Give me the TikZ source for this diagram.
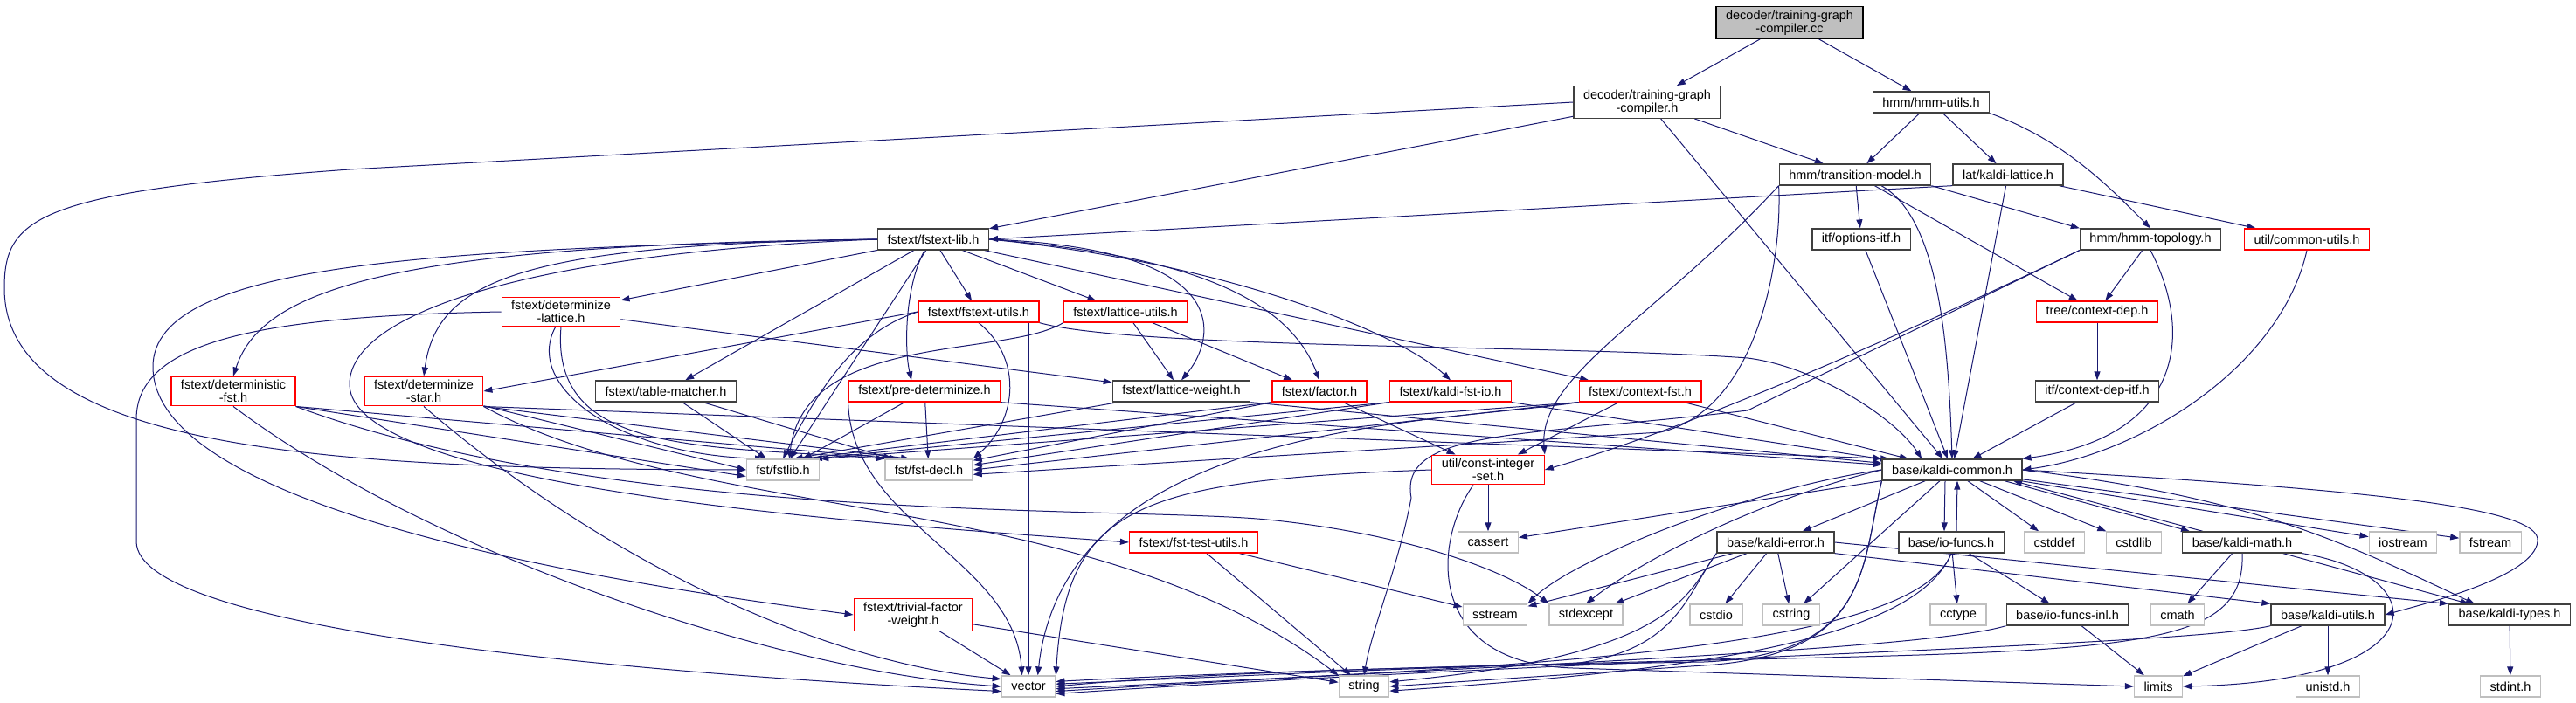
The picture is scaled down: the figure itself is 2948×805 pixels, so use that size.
\documentclass[tikz,border=0pt]{standalone}
\usepackage{fontspec}
\setmainfont{Liberation Sans}
\usepackage{xcolor}
\definecolor{dgedge}{HTML}{191970}
\definecolor{dggray}{HTML}{BFBFBF}
\definecolor{dgdark}{HTML}{404040}
\definecolor{dgred}{HTML}{FF0000}
\usepackage{tikz}
\usetikzlibrary{arrows.meta,positioning,backgrounds}

\begin{document}
\begin{tikzpicture}[x=1pt, y=-1pt,
  hdr/.style={draw=dgdark, fill=white, line width=1.3pt, minimum height=24pt,
              inner xsep=11pt, inner ysep=4pt, align=center,
              font=\fontsize{14.5}{15}\selectfont},
  trunc/.style={hdr, draw=dgred},
  sys/.style={hdr, draw=dggray},
  root/.style={hdr, draw=black, fill=dggray},
  inc/.style={draw=dgedge, line width=1pt, -{Triangle[length=10pt,width=7pt]}}
]
\useasboundingbox (0,0) rectangle (2948,805);

%% decoder, hmm, lat
\node[root] (cc) at (2048,26) {decoder/training-graph\\-compiler.cc};
\node[hdr] (tgc) at (1885,117) {decoder/training-graph\\-compiler.h};
\node[hdr] (hmmutils) at (2210,117) {hmm/hmm-utils.h};
\node[hdr] (transmodel) at (2123,200) {hmm/transition-model.h};
\node[hdr] (kaldilattice) at (2298,200) {lat/kaldi-lattice.h};
\node[hdr] (fstextlib) at (1068,274) {fstext/fstext-lib.h};
\node[hdr] (optionsitf) at (2130,274) {itf/options-itf.h};
\node[hdr] (hmmtopo) at (2461,274) {hmm/hmm-topology.h};
\node[trunc] (commonutils) at (2640,274) {util/common-utils.h};
\node[trunc] (contextdep) at (2400,357) {tree/context-dep.h};
\node[hdr] (contextdepitf) at (2400,448) {itf/context-dep-itf.h};

%% fstext
\node[trunc] (detlattice) at (642,357) {fstext/determinize\\-lattice.h};
\node[trunc] (fstextutils) at (1120,357) {fstext/fstext-utils.h};
\node[trunc] (latticeutils) at (1288,357) {fstext/lattice-utils.h};
\node[trunc] (detfst) at (267,448) {fstext/deterministic\\-fst.h};
\node[trunc] (detstar) at (485,448) {fstext/determinize\\-star.h};
\node[hdr] (tablematcher) at (762,448) {fstext/table-matcher.h};
\node[trunc] (predet) at (1058,448) {fstext/pre-determinize.h};
\node[hdr] (latticeweight) at (1352,448) {fstext/lattice-weight.h};
\node[trunc] (factor) at (1510,448) {fstext/factor.h};
\node[trunc] (kaldifstio) at (1660,448) {fstext/kaldi-fst-io.h};
\node[trunc] (contextfst) at (1877,448) {fstext/context-fst.h};
\node[sys] (fstlib) at (896,538) {fst/fstlib.h};
\node[sys] (fstdecl) at (1063,538) {fst/fst-decl.h};
\node[trunc] (constint) at (1703,538) {util/const-integer\\-set.h};
\node[trunc] (fsttest) at (1366,621) {fstext/fst-test-utils.h};
\node[trunc] (trivial) at (1045,704) {fstext/trivial-factor\\-weight.h};

%% base
\node[hdr] (kcommon) at (2234,538) {base/kaldi-common.h};
\node[sys] (cassert) at (1703,621) {cassert};
\node[hdr] (kerror) at (2032,621) {base/kaldi-error.h};
\node[hdr] (iofuncs) at (2233,621) {base/io-funcs.h};
\node[sys] (cstddef) at (2351,621) {cstddef};
\node[sys] (cstdlib) at (2442,621) {cstdlib};
\node[hdr] (kmath) at (2566,621) {base/kaldi-math.h};
\node[sys] (iostream) at (2750,621) {iostream};
\node[sys] (fstream) at (2850,621) {fstream};
\node[sys] (sstream) at (1711,704) {sstream};
\node[sys] (stdexcept) at (1815,704) {stdexcept};
\node[sys] (cstdio) at (1964,704) {cstdio};
\node[sys] (cstring) at (2050,704) {cstring};
\node[sys] (cctype) at (2241,704) {cctype};
\node[hdr] (iofuncsinl) at (2366,704) {base/io-funcs-inl.h};
\node[sys] (cmath) at (2492,704) {cmath};
\node[hdr] (kutils) at (2664,704) {base/kaldi-utils.h};
\node[hdr] (ktypes) at (2872,704) {base/kaldi-types.h};
\node[sys] (vector) at (1177,786) {vector};
\node[sys] (string) at (1561,786) {string};
\node[sys] (limits) at (2470,786) {limits};
\node[sys] (unistd) at (2664,786) {unistd.h};
\node[sys] (stdint) at (2873,786) {stdint.h};

\begin{scope}[on background layer]
%% top of the graph
\foreach \n in {tgc,hmmutils} \draw[inc] (cc) -- (\n);
\foreach \n in {fstextlib,transmodel,kcommon} \draw[inc] (tgc) -- (\n);
\draw[inc] (tgc.west) -- (400,194) .. controls (40,220) and (5,250) .. (5,330)
  .. controls (5,520) and (400,537) .. (fstlib.west);
\foreach \n in {transmodel,kaldilattice} \draw[inc] (hmmutils) -- (\n);
\draw[inc] (hmmutils.south east) .. controls (2360,160) and (2410,210) .. (hmmtopo.north);
\foreach \n in {optionsitf,contextdep} \draw[inc] (transmodel) -- (\n);
\draw[inc] (transmodel.south east) -- (hmmtopo.north west);
\draw[inc] ([xshift=30pt]transmodel.south) .. controls (2220,250) and (2230,400) .. (kcommon.north);
\draw[inc] (transmodel.south west) .. controls (1900,360) and (1760,430) .. (constint.north east);
\draw[inc] (transmodel.south west) .. controls (2040,300) and (2010,470) .. (1900,495) -- (fstdecl.-6);
\draw[inc] (kaldilattice.south west) -- (fstextlib.east);
\foreach \n in {kcommon,commonutils} \draw[inc] (kaldilattice) -- (\n);
\draw[inc] (hmmtopo) -- (contextdep);
\draw[inc] (hmmtopo.south) .. controls (2510,380) and (2500,500) .. (kcommon.north east);
\draw[inc] (hmmtopo.south west) .. controls (2100,420) and (1900,500) .. (constint.east);
\draw[inc] (hmmtopo.south west) -- (2000,470) .. controls (1750,500) and (1600,490) .. (1615,570)
  .. controls (1600,650) and (1570,720) .. (string.north);
\draw[inc] (commonutils.south) .. controls (2610,420) and (2450,520) .. (kcommon.east);
\foreach \n in {optionsitf,contextdepitf} \draw[inc] (\n) -- (kcommon);
\draw[inc] (contextdep) -- (contextdepitf);

%% fstext-lib
\foreach \n in {detlattice,tablematcher,fstextutils,latticeutils,contextfst,fstlib}
  \draw[inc] (fstextlib) -- (\n);
\draw[inc] (fstextlib.west) .. controls (450,280) and (300,330) .. (detfst.north);
\draw[inc] (fstextlib.west) .. controls (600,280) and (500,320) .. (detstar.north);
\draw[inc] (fstextlib.west) .. controls (500,285) and (175,300) .. (175,420)
  .. controls (175,600) and (800,680) .. (trivial.west);
\draw[inc] (fstextlib.west) .. controls (600,290) and (400,360) .. (400,440)
  .. controls (400,560) and (1000,600) .. (fsttest.west);
\draw[inc] ([xshift=-10pt]fstextlib.south) .. controls (1035,330) and (1035,400) .. ([xshift=-15pt]predet.north);
\draw[inc] (fstextlib.east) .. controls (1420,285) and (1390,390) .. (latticeweight.north);
\draw[inc] (fstextlib.east) .. controls (1330,290) and (1470,330) .. (factor.north);
\draw[inc] (fstextlib.east) .. controls (1400,300) and (1600,380) .. (kaldifstio.north);

%% fstext headers
\draw[inc] (detlattice) -- (latticeweight);
\draw[inc] (detlattice.250) .. controls (600,440) and (700,520) .. (fstlib.150);
\draw[inc] (detlattice.south) .. controls (630,520) and (800,510) .. (fstdecl.north west);
\draw[inc] (detlattice.west) .. controls (300,362) and (156,390) .. (156,480) -- (156,620)
  .. controls (156,720) and (700,770) .. (vector.190);
\draw[inc] (detfst.south east) -- (fstlib.190);
\draw[inc] (detfst.south east) -- (fstdecl.160);
\draw[inc] (detfst.south) .. controls (500,640) and (900,770) .. (vector.west);
\draw[inc] (detfst.south east) .. controls (700,600) and (1300,580) .. (1450,595)
  .. controls (1600,610) and (1720,650) .. (stdexcept.north west);
\draw[inc] (detstar) -- (fstlib.west);
\draw[inc] (detstar.south east) -- (fstdecl.150);
\draw[inc] (detstar.south) .. controls (700,650) and (950,760) .. (vector.165);
\draw[inc] (detstar.south east) -- (kcommon.170);
\draw[inc] (detstar.south east) .. controls (800,600) and (1250,560) .. (string.north west);
\foreach \n in {fstlib,fstdecl} \draw[inc] (tablematcher) -- (\n);
\foreach \n in {fstlib,fstdecl} \draw[inc] (predet) -- (\n);
\draw[inc] (predet.south west) .. controls (975,600) and (1160,640) .. (vector.120);
\draw[inc] (predet.south east) -- (kcommon);
\draw[inc] (fstextutils.west) -- (detstar.east);
\draw[inc] (fstextutils.west) .. controls (980,380) and (940,440) .. (fstlib.north);
\draw[inc] (fstextutils.south) .. controls (1170,410) and (1165,480) .. (fstdecl.north east);
\draw[inc] ([xshift=57pt]fstextutils.south) -- (vector.north);
\draw[inc] (fstextutils.south east) .. controls (1300,400) and (1800,395) .. (2000,410)
  .. controls (2080,420) and (2170,480) .. (kcommon.160);
\foreach \n in {latticeweight,factor} \draw[inc] (latticeutils) -- (\n);
\draw[inc] (latticeutils.south west) .. controls (1150,410) and (920,380) .. (fstlib.60);
\draw[inc] (latticeweight) -- (fstlib.45);
\draw[inc] (latticeweight.south east) -- (kcommon);
\draw[inc] (factor) -- (constint);
\draw[inc] (factor.south west) -- (fstlib.30);
\draw[inc] (factor.south west) -- (fstdecl.12);
\draw[inc] (kaldifstio.south west) -- (fstlib.20);
\draw[inc] (kaldifstio.south west) -- (fstdecl.6);
\draw[inc] (kaldifstio.south east) -- (kcommon);
\foreach \n in {constint,kcommon} \draw[inc] (contextfst) -- (\n);
\draw[inc] (contextfst.south west) -- (fstlib.north east);
\draw[inc] (contextfst.south west) -- (fstdecl.east);
\draw[inc] (contextfst.south west) .. controls (1650,485) and (1220,480) .. (vector.50);

%% const-integer-set, test utils, trivial factor
\draw[inc] (constint) -- (cassert);
\draw[inc] (constint.west) .. controls (1300,550) and (1220,580) .. (vector.north east);
\draw[inc] ([xshift=-17pt]constint.south) .. controls (1640,620) and (1630,760) .. (1800,765) -- (limits.west);
\foreach \n in {sstream,string} \draw[inc] (fsttest) -- (\n);
\foreach \n in {vector,string} \draw[inc] (trivial) -- (\n);

%% kaldi-common and base headers
\foreach \n in {kerror,cstddef,cstdlib,iostream,fstream,cstring,cassert}
  \draw[inc] (kcommon) -- (\n);
\draw[inc] (kcommon.west) .. controls (2000,560) and (1800,640) .. (sstream.north east);
\draw[inc] (kcommon.west) .. controls (2020,570) and (1880,640) .. (stdexcept.north);
\draw[inc] (kcommon.south west) .. controls (2130,650) and (2140,750) .. (1950,762) -- (string.east);
\draw[inc] (kcommon.south west) .. controls (2130,650) and (2140,750) .. (1950,758)
  .. controls (1700,762) and (1400,768) .. (vector.east);
\draw[inc] (kcommon.east) .. controls (2700,560) and (2910,580) .. (2904,620)
  .. controls (2900,660) and (2780,690) .. (kutils.east);
\draw[inc] (kcommon.east) .. controls (2580,570) and (2680,620) .. ([xshift=-40pt]ktypes.north);
\draw[inc] ([xshift=-8pt]kcommon.south) -- ([xshift=-8pt]iofuncs.north);
\draw[inc] ([xshift=6pt]iofuncs.north) -- ([xshift=6pt]kcommon.south);
\draw[inc] ([xshift=60pt]kcommon.south) -- ([xshift=-60pt]kmath.north);
\draw[inc] ([xshift=-45pt]kmath.north) -- ([xshift=70pt]kcommon.south);

\foreach \n in {sstream,stdexcept,cstdio,cstring} \draw[inc] (kerror) -- (\n);
\draw[inc] (kerror.south west) .. controls (1930,680) and (1920,750) .. (string.10);
\draw[inc] (kerror.south west) .. controls (1930,680) and (1920,745) .. (1800,760)
  .. controls (1600,765) and (1400,775) .. (vector.5);
\draw[inc] (kerror.south east) -- (kutils.north west);
\draw[inc] (kerror.east) -- (ktypes.north west);

\foreach \n in {cctype,iofuncsinl} \draw[inc] (iofuncs) -- (\n);
\draw[inc] (iofuncs.south) .. controls (2190,740) and (1900,770) .. (string.-10);
\draw[inc] (iofuncs.south) .. controls (2190,750) and (1700,765) .. (vector.-5);
\draw[inc] (iofuncsinl) -- (limits);
\draw[inc] (iofuncsinl.south west) .. controls (2200,745) and (1700,762) .. (vector.-10);

\foreach \n in {cmath,ktypes} \draw[inc] (kmath) -- (\n);
\draw[inc] (kmath.south east) .. controls (2790,660) and (2790,780) .. (limits.east);
\draw[inc] (kmath.south) .. controls (2570,740) and (2450,745) .. (2000,755)
  .. controls (1700,762) and (1400,770) .. (vector.10);
\foreach \n in {limits,unistd} \draw[inc] (kutils) -- (\n);
\draw[inc] (kutils.south west) .. controls (2500,740) and (1800,755) .. (vector.-15);
\draw[inc] (ktypes) -- (stdint);
\end{scope}
\end{tikzpicture}
\end{document}
